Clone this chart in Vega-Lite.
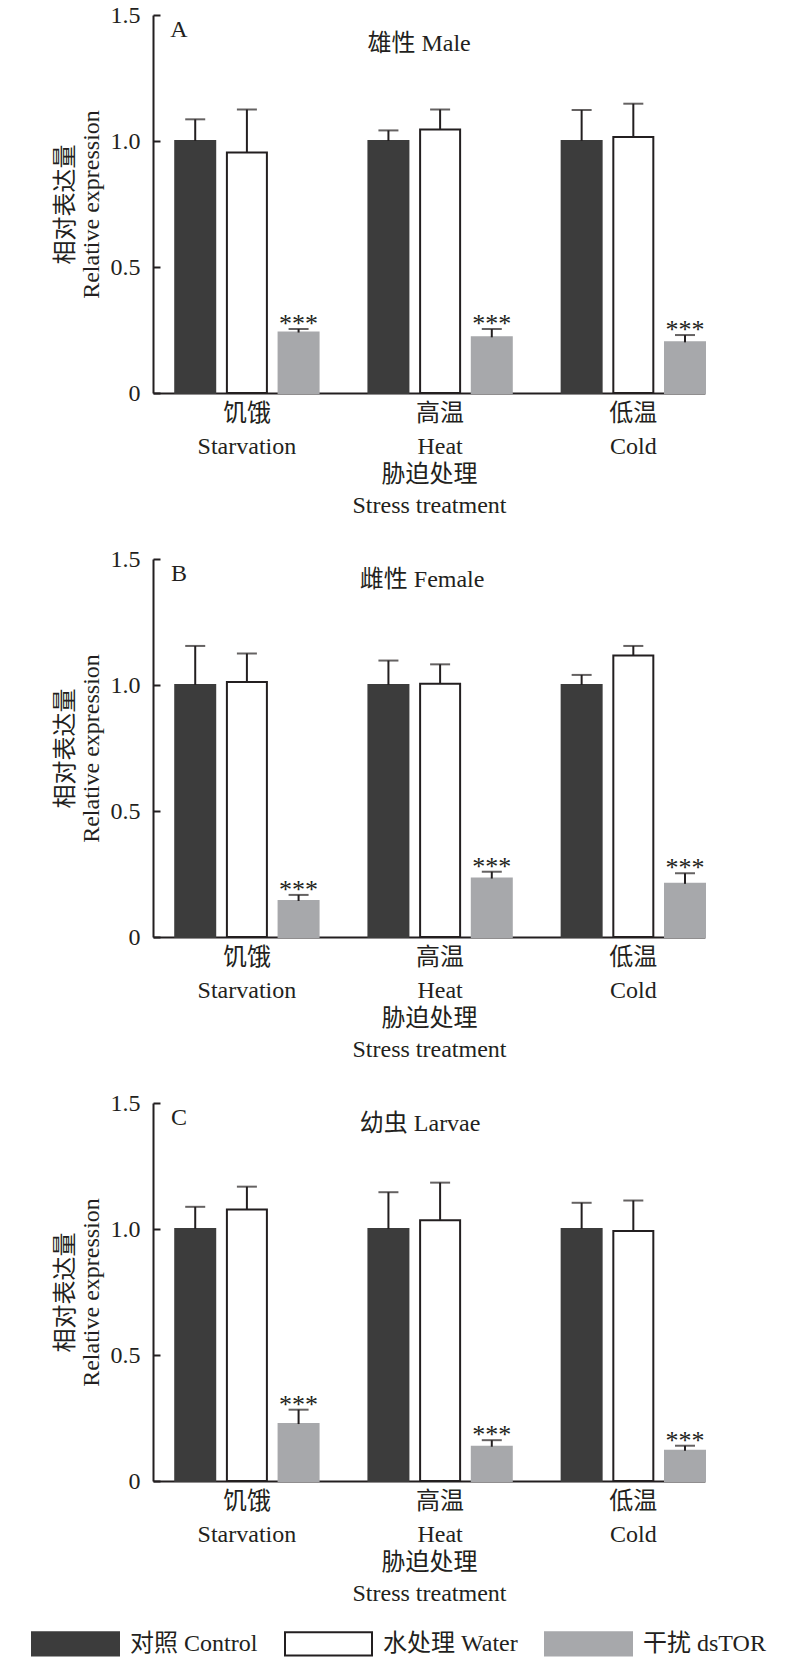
{
  "$schema": "https://vega.github.io/schema/vega-lite/v6.json",
  "padding": {"left": 53, "top": 3, "right": 10, "bottom": 0},
  "config": {
    "font": "Liberation Serif, 'Noto Sans CJK SC'",
    "view": {"stroke": null},
    "axis": {"labelColor": "#231f20", "titleColor": "#231f20", "domainColor": "#231f20", "tickColor": "#231f20", "titleFontWeight": "normal", "grid": false},
    "text": {"font": "Liberation Serif, 'Noto Sans CJK SC'", "color": "#231f20"}
  },
  "datasets": {
    "expr": [
      {"panel": "A", "stress": "饥饿|Starvation", "group": "对照 Control", "value": 1.0, "err": 1.086, "sig": ""},
      {"panel": "A", "stress": "饥饿|Starvation", "group": "水处理 Water", "value": 0.954, "err": 1.125, "sig": ""},
      {"panel": "A", "stress": "饥饿|Starvation", "group": "干扰 dsTOR", "value": 0.24, "err": 0.254, "sig": "***"},
      {"panel": "A", "stress": "高温|Heat", "group": "对照 Control", "value": 1.0, "err": 1.042, "sig": ""},
      {"panel": "A", "stress": "高温|Heat", "group": "水处理 Water", "value": 1.046, "err": 1.125, "sig": ""},
      {"panel": "A", "stress": "高温|Heat", "group": "干扰 dsTOR", "value": 0.221, "err": 0.254, "sig": "***"},
      {"panel": "A", "stress": "低温|Cold", "group": "对照 Control", "value": 1.0, "err": 1.123, "sig": ""},
      {"panel": "A", "stress": "低温|Cold", "group": "水处理 Water", "value": 1.016, "err": 1.148, "sig": ""},
      {"panel": "A", "stress": "低温|Cold", "group": "干扰 dsTOR", "value": 0.201, "err": 0.23, "sig": "***"},
      {"panel": "B", "stress": "饥饿|Starvation", "group": "对照 Control", "value": 1.0, "err": 1.155, "sig": ""},
      {"panel": "B", "stress": "饥饿|Starvation", "group": "水处理 Water", "value": 1.012, "err": 1.125, "sig": ""},
      {"panel": "B", "stress": "饥饿|Starvation", "group": "干扰 dsTOR", "value": 0.143, "err": 0.167, "sig": "***"},
      {"panel": "B", "stress": "高温|Heat", "group": "对照 Control", "value": 1.0, "err": 1.097, "sig": ""},
      {"panel": "B", "stress": "高温|Heat", "group": "水处理 Water", "value": 1.005, "err": 1.082, "sig": ""},
      {"panel": "B", "stress": "高温|Heat", "group": "干扰 dsTOR", "value": 0.232, "err": 0.259, "sig": "***"},
      {"panel": "B", "stress": "低温|Cold", "group": "对照 Control", "value": 1.0, "err": 1.04, "sig": ""},
      {"panel": "B", "stress": "低温|Cold", "group": "水处理 Water", "value": 1.117, "err": 1.155, "sig": ""},
      {"panel": "B", "stress": "低温|Cold", "group": "干扰 dsTOR", "value": 0.211, "err": 0.253, "sig": "***"},
      {"panel": "C", "stress": "饥饿|Starvation", "group": "对照 Control", "value": 1.0, "err": 1.088, "sig": ""},
      {"panel": "C", "stress": "饥饿|Starvation", "group": "水处理 Water", "value": 1.077, "err": 1.168, "sig": ""},
      {"panel": "C", "stress": "饥饿|Starvation", "group": "干扰 dsTOR", "value": 0.226, "err": 0.283, "sig": "***"},
      {"panel": "C", "stress": "高温|Heat", "group": "对照 Control", "value": 1.0, "err": 1.146, "sig": ""},
      {"panel": "C", "stress": "高温|Heat", "group": "水处理 Water", "value": 1.035, "err": 1.184, "sig": ""},
      {"panel": "C", "stress": "高温|Heat", "group": "干扰 dsTOR", "value": 0.136, "err": 0.162, "sig": "***"},
      {"panel": "C", "stress": "低温|Cold", "group": "对照 Control", "value": 1.0, "err": 1.104, "sig": ""},
      {"panel": "C", "stress": "低温|Cold", "group": "水处理 Water", "value": 0.992, "err": 1.113, "sig": ""},
      {"panel": "C", "stress": "低温|Cold", "group": "干扰 dsTOR", "value": 0.12, "err": 0.14, "sig": "***"}
    ],
    "panels": [
      {"panel": "A", "letter": "A", "name": "雄性 Male"},
      {"panel": "B", "letter": "B", "name": "雌性 Female"},
      {"panel": "C", "letter": "C", "name": "幼虫 Larvae"}
    ]
  },
  "spacing": 30,
  "vconcat": [
    {
      "width": 552, "height": 378,
      "layer": [
        {"data": {"name": "expr"}, "transform": [{"filter": "datum.panel == 'A'"}],
         "mark": {"type": "bar", "strokeWidth": 2},
         "encoding": {
          "x": {"field": "stress", "type": "nominal", "sort": ["饥饿|Starvation", "高温|Heat", "低温|Cold"],
                "scale": {"paddingInner": 0.258, "paddingOuter": 0.0575, "align": 1},
                "axis": {"ticks": false, "domainWidth": 2, "labelAngle": 0, "labelFontSize": 24, "labelLineHeight": 33, "labelPadding": 8,
                         "labelExpr": "split(datum.label, '|')", "title": ["胁迫处理", "Stress treatment"], "titleFontSize": 24, "titleLineHeight": 31, "titlePadding": 4}},
          "xOffset": {"field": "group", "type": "nominal", "sort": ["对照 Control", "水处理 Water", "干扰 dsTOR"], "scale": {"paddingInner": 0.226, "paddingOuter": 0}},
          "y": {"field": "value", "type": "quantitative", "scale": {"domain": [0, 1.5], "nice": false, "zero": true},
                "axis": {"values": [0, 0.5, 1, 1.5], "labelExpr": "datum.value == 0 ? '0' : format(datum.value, '.1f')", "tickSize": -7, "tickWidth": 2, "domainWidth": 2,
                         "labelFontSize": 24, "labelPadding": 20, "title": ["相对表达量", "Relative expression"], "titleFontSize": 24, "titleLineHeight": 26, "titlePadding": 7}},
          "fill": {"field": "group", "type": "nominal", "sort": ["对照 Control", "水处理 Water", "干扰 dsTOR"], "title": null,
                   "scale": {"domain": ["对照 Control", "水处理 Water", "干扰 dsTOR"], "range": ["#3c3c3c", "#ffffff", "#a7a8ab"]},
                   "legend": {"orient": "none", "legendX": -93, "legendY": 1613, "direction": "horizontal", "symbolType": "M-3,-0.8H3V0.8H-3Z", "symbolSize": 841, "symbolStrokeWidth": 2, "labelFontSize": 24, "labelOffset": 39, "columnPadding": 23, "labelColor": "#231f20"}},
          "stroke": {"field": "group", "type": "nominal", "sort": ["对照 Control", "水处理 Water", "干扰 dsTOR"], "title": null,
                   "scale": {"domain": ["对照 Control", "水处理 Water", "干扰 dsTOR"], "range": ["#3c3c3c", "#231f20", "#a7a8ab"]},
                   "legend": {"orient": "none", "legendX": -93, "legendY": 1613, "direction": "horizontal", "symbolType": "M-3,-0.8H3V0.8H-3Z", "symbolSize": 841, "symbolStrokeWidth": 2, "labelFontSize": 24, "labelOffset": 39, "columnPadding": 23, "labelColor": "#231f20"}}
         }},
        {"data": {"name": "expr"}, "transform": [{"filter": "datum.panel == 'A'"}],
         "mark": {"type": "rule", "strokeWidth": 2, "color": "#231f20"},
         "encoding": {"x": {"field": "stress", "type": "nominal", "sort": ["饥饿|Starvation", "高温|Heat", "低温|Cold"]},
                      "xOffset": {"field": "group", "type": "nominal", "sort": ["对照 Control", "水处理 Water", "干扰 dsTOR"]},
                      "y": {"field": "value", "type": "quantitative"}, "y2": {"field": "err"}}},
        {"data": {"name": "expr"}, "transform": [{"filter": "datum.panel == 'A'"}],
         "mark": {"type": "tick", "size": 20, "thickness": 2, "color": "#231f20", "orient": "horizontal"},
         "encoding": {"x": {"field": "stress", "type": "nominal", "sort": ["饥饿|Starvation", "高温|Heat", "低温|Cold"]},
                      "xOffset": {"field": "group", "type": "nominal", "sort": ["对照 Control", "水处理 Water", "干扰 dsTOR"]},
                      "y": {"field": "err", "type": "quantitative"}}},
        {"data": {"name": "expr"}, "transform": [{"filter": "datum.panel == 'A'"}],
         "mark": {"type": "text", "fontSize": 26, "baseline": "bottom", "dy": 8},
         "encoding": {"x": {"field": "stress", "type": "nominal", "sort": ["饥饿|Starvation", "高温|Heat", "低温|Cold"]},
                      "xOffset": {"field": "group", "type": "nominal", "sort": ["对照 Control", "水处理 Water", "干扰 dsTOR"]},
                      "y": {"field": "err", "type": "quantitative"}, "text": {"field": "sig"}}},
        {"data": {"name": "panels"}, "transform": [{"filter": "datum.panel == 'A'"}],
         "mark": {"type": "text", "fontSize": 24, "baseline": "middle", "align": "center", "dx": -68, "dy": 15},
         "encoding": {"x": {"datum": "饥饿|Starvation", "type": "nominal"}, "y": {"datum": 1.5, "type": "quantitative"}, "text": {"field": "letter"}}},
        {"data": {"name": "panels"}, "transform": [{"filter": "datum.panel == 'A'"}],
         "mark": {"type": "text", "fontSize": 24, "baseline": "middle", "align": "center", "dx": -21, "dy": 29},
         "encoding": {"x": {"datum": "高温|Heat", "type": "nominal"}, "y": {"datum": 1.5, "type": "quantitative"}, "text": {"field": "name"}}}
      ]
    },
    {
      "width": 552, "height": 378,
      "layer": [
        {"data": {"name": "expr"}, "transform": [{"filter": "datum.panel == 'B'"}],
         "mark": {"type": "bar", "strokeWidth": 2},
         "encoding": {
          "x": {"field": "stress", "type": "nominal", "sort": ["饥饿|Starvation", "高温|Heat", "低温|Cold"],
                "scale": {"paddingInner": 0.258, "paddingOuter": 0.0575, "align": 1},
                "axis": {"ticks": false, "domainWidth": 2, "labelAngle": 0, "labelFontSize": 24, "labelLineHeight": 33, "labelPadding": 8,
                         "labelExpr": "split(datum.label, '|')", "title": ["胁迫处理", "Stress treatment"], "titleFontSize": 24, "titleLineHeight": 31, "titlePadding": 4}},
          "xOffset": {"field": "group", "type": "nominal", "sort": ["对照 Control", "水处理 Water", "干扰 dsTOR"], "scale": {"paddingInner": 0.226, "paddingOuter": 0}},
          "y": {"field": "value", "type": "quantitative", "scale": {"domain": [0, 1.5], "nice": false, "zero": true},
                "axis": {"values": [0, 0.5, 1, 1.5], "labelExpr": "datum.value == 0 ? '0' : format(datum.value, '.1f')", "tickSize": -7, "tickWidth": 2, "domainWidth": 2,
                         "labelFontSize": 24, "labelPadding": 20, "title": ["相对表达量", "Relative expression"], "titleFontSize": 24, "titleLineHeight": 26, "titlePadding": 7}},
          "fill": {"field": "group", "type": "nominal", "sort": ["对照 Control", "水处理 Water", "干扰 dsTOR"], "title": null},
          "stroke": {"field": "group", "type": "nominal", "sort": ["对照 Control", "水处理 Water", "干扰 dsTOR"], "title": null}
         }},
        {"data": {"name": "expr"}, "transform": [{"filter": "datum.panel == 'B'"}],
         "mark": {"type": "rule", "strokeWidth": 2, "color": "#231f20"},
         "encoding": {"x": {"field": "stress", "type": "nominal", "sort": ["饥饿|Starvation", "高温|Heat", "低温|Cold"]},
                      "xOffset": {"field": "group", "type": "nominal", "sort": ["对照 Control", "水处理 Water", "干扰 dsTOR"]},
                      "y": {"field": "value", "type": "quantitative"}, "y2": {"field": "err"}}},
        {"data": {"name": "expr"}, "transform": [{"filter": "datum.panel == 'B'"}],
         "mark": {"type": "tick", "size": 20, "thickness": 2, "color": "#231f20", "orient": "horizontal"},
         "encoding": {"x": {"field": "stress", "type": "nominal", "sort": ["饥饿|Starvation", "高温|Heat", "低温|Cold"]},
                      "xOffset": {"field": "group", "type": "nominal", "sort": ["对照 Control", "水处理 Water", "干扰 dsTOR"]},
                      "y": {"field": "err", "type": "quantitative"}}},
        {"data": {"name": "expr"}, "transform": [{"filter": "datum.panel == 'B'"}],
         "mark": {"type": "text", "fontSize": 26, "baseline": "bottom", "dy": 8},
         "encoding": {"x": {"field": "stress", "type": "nominal", "sort": ["饥饿|Starvation", "高温|Heat", "低温|Cold"]},
                      "xOffset": {"field": "group", "type": "nominal", "sort": ["对照 Control", "水处理 Water", "干扰 dsTOR"]},
                      "y": {"field": "err", "type": "quantitative"}, "text": {"field": "sig"}}},
        {"data": {"name": "panels"}, "transform": [{"filter": "datum.panel == 'B'"}],
         "mark": {"type": "text", "fontSize": 24, "baseline": "middle", "align": "center", "dx": -68, "dy": 15},
         "encoding": {"x": {"datum": "饥饿|Starvation", "type": "nominal"}, "y": {"datum": 1.5, "type": "quantitative"}, "text": {"field": "letter"}}},
        {"data": {"name": "panels"}, "transform": [{"filter": "datum.panel == 'B'"}],
         "mark": {"type": "text", "fontSize": 24, "baseline": "middle", "align": "center", "dx": -18, "dy": 21},
         "encoding": {"x": {"datum": "高温|Heat", "type": "nominal"}, "y": {"datum": 1.5, "type": "quantitative"}, "text": {"field": "name"}}}
      ]
    },
    {
      "width": 552, "height": 378,
      "layer": [
        {"data": {"name": "expr"}, "transform": [{"filter": "datum.panel == 'C'"}],
         "mark": {"type": "bar", "strokeWidth": 2},
         "encoding": {
          "x": {"field": "stress", "type": "nominal", "sort": ["饥饿|Starvation", "高温|Heat", "低温|Cold"],
                "scale": {"paddingInner": 0.258, "paddingOuter": 0.0575, "align": 1},
                "axis": {"ticks": false, "domainWidth": 2, "labelAngle": 0, "labelFontSize": 24, "labelLineHeight": 33, "labelPadding": 8,
                         "labelExpr": "split(datum.label, '|')", "title": ["胁迫处理", "Stress treatment"], "titleFontSize": 24, "titleLineHeight": 31, "titlePadding": 4}},
          "xOffset": {"field": "group", "type": "nominal", "sort": ["对照 Control", "水处理 Water", "干扰 dsTOR"], "scale": {"paddingInner": 0.226, "paddingOuter": 0}},
          "y": {"field": "value", "type": "quantitative", "scale": {"domain": [0, 1.5], "nice": false, "zero": true},
                "axis": {"values": [0, 0.5, 1, 1.5], "labelExpr": "datum.value == 0 ? '0' : format(datum.value, '.1f')", "tickSize": -7, "tickWidth": 2, "domainWidth": 2,
                         "labelFontSize": 24, "labelPadding": 20, "title": ["相对表达量", "Relative expression"], "titleFontSize": 24, "titleLineHeight": 26, "titlePadding": 7}},
          "fill": {"field": "group", "type": "nominal", "sort": ["对照 Control", "水处理 Water", "干扰 dsTOR"], "title": null},
          "stroke": {"field": "group", "type": "nominal", "sort": ["对照 Control", "水处理 Water", "干扰 dsTOR"], "title": null}
         }},
        {"data": {"name": "expr"}, "transform": [{"filter": "datum.panel == 'C'"}],
         "mark": {"type": "rule", "strokeWidth": 2, "color": "#231f20"},
         "encoding": {"x": {"field": "stress", "type": "nominal", "sort": ["饥饿|Starvation", "高温|Heat", "低温|Cold"]},
                      "xOffset": {"field": "group", "type": "nominal", "sort": ["对照 Control", "水处理 Water", "干扰 dsTOR"]},
                      "y": {"field": "value", "type": "quantitative"}, "y2": {"field": "err"}}},
        {"data": {"name": "expr"}, "transform": [{"filter": "datum.panel == 'C'"}],
         "mark": {"type": "tick", "size": 20, "thickness": 2, "color": "#231f20", "orient": "horizontal"},
         "encoding": {"x": {"field": "stress", "type": "nominal", "sort": ["饥饿|Starvation", "高温|Heat", "低温|Cold"]},
                      "xOffset": {"field": "group", "type": "nominal", "sort": ["对照 Control", "水处理 Water", "干扰 dsTOR"]},
                      "y": {"field": "err", "type": "quantitative"}}},
        {"data": {"name": "expr"}, "transform": [{"filter": "datum.panel == 'C'"}],
         "mark": {"type": "text", "fontSize": 26, "baseline": "bottom", "dy": 8},
         "encoding": {"x": {"field": "stress", "type": "nominal", "sort": ["饥饿|Starvation", "高温|Heat", "低温|Cold"]},
                      "xOffset": {"field": "group", "type": "nominal", "sort": ["对照 Control", "水处理 Water", "干扰 dsTOR"]},
                      "y": {"field": "err", "type": "quantitative"}, "text": {"field": "sig"}}},
        {"data": {"name": "panels"}, "transform": [{"filter": "datum.panel == 'C'"}],
         "mark": {"type": "text", "fontSize": 24, "baseline": "middle", "align": "center", "dx": -68, "dy": 15},
         "encoding": {"x": {"datum": "饥饿|Starvation", "type": "nominal"}, "y": {"datum": 1.5, "type": "quantitative"}, "text": {"field": "letter"}}},
        {"data": {"name": "panels"}, "transform": [{"filter": "datum.panel == 'C'"}],
         "mark": {"type": "text", "fontSize": 24, "baseline": "middle", "align": "center", "dx": -20, "dy": 21},
         "encoding": {"x": {"datum": "高温|Heat", "type": "nominal"}, "y": {"datum": 1.5, "type": "quantitative"}, "text": {"field": "name"}}}
      ]
    }
  ]
}
